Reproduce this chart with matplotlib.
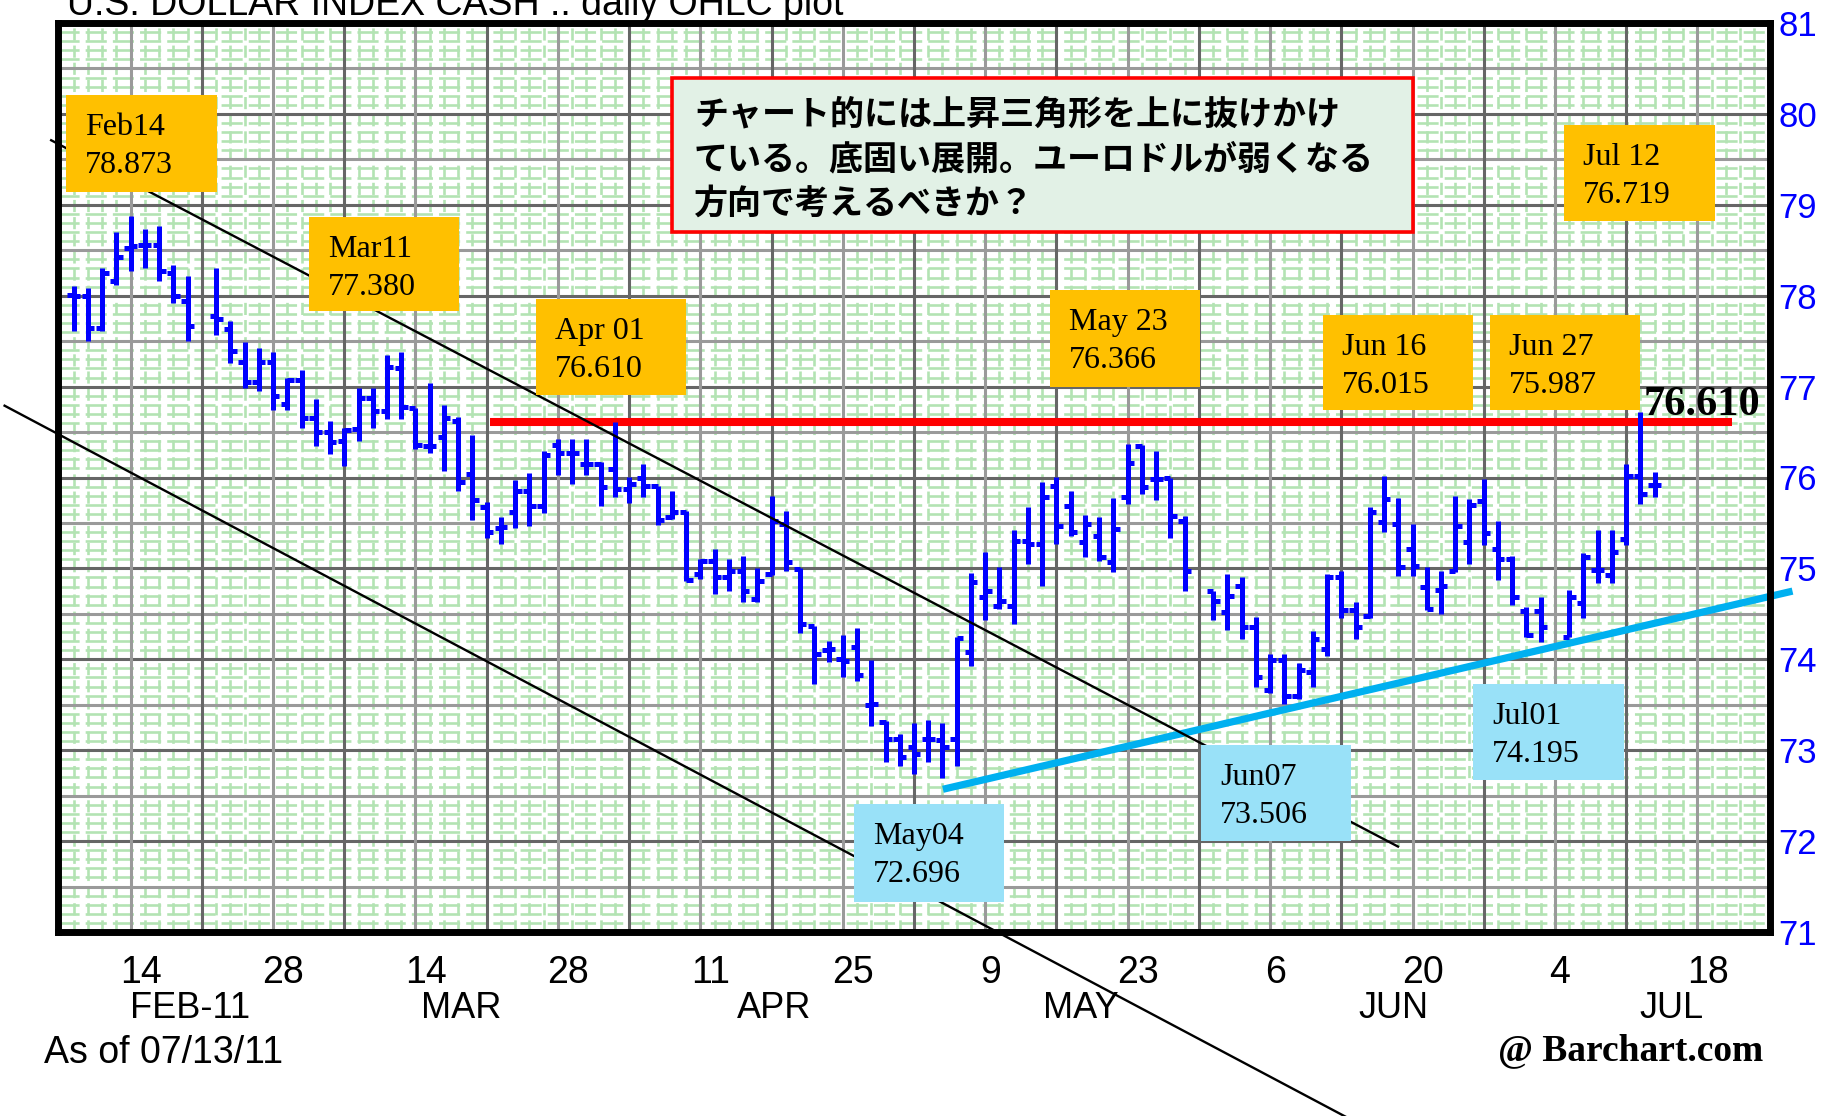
import numpy as np
import matplotlib
matplotlib.use("Agg")
import matplotlib.pyplot as plt
from matplotlib.patches import Rectangle
from matplotlib.transforms import blended_transform_factory

# ---------------- data ----------------
dates = ["2011-02-08", "2011-02-09", "2011-02-10", "2011-02-11",
         "2011-02-14", "2011-02-15", "2011-02-16", "2011-02-17", "2011-02-18",
         "2011-02-22", "2011-02-23", "2011-02-24", "2011-02-25",
         "2011-02-28", "2011-03-01", "2011-03-02", "2011-03-03", "2011-03-04",
         "2011-03-07", "2011-03-08", "2011-03-09", "2011-03-10", "2011-03-11",
         "2011-03-14", "2011-03-15", "2011-03-16", "2011-03-17", "2011-03-18",
         "2011-03-21", "2011-03-22", "2011-03-23", "2011-03-24", "2011-03-25",
         "2011-03-28", "2011-03-29", "2011-03-30", "2011-03-31", "2011-04-01",
         "2011-04-04", "2011-04-05", "2011-04-06", "2011-04-07", "2011-04-08",
         "2011-04-11", "2011-04-12", "2011-04-13", "2011-04-14", "2011-04-15",
         "2011-04-18", "2011-04-19", "2011-04-20", "2011-04-21", "2011-04-22",
         "2011-04-25", "2011-04-26", "2011-04-27", "2011-04-28", "2011-04-29",
         "2011-05-02", "2011-05-03", "2011-05-04", "2011-05-05", "2011-05-06",
         "2011-05-09", "2011-05-10", "2011-05-11", "2011-05-12", "2011-05-13",
         "2011-05-16", "2011-05-17", "2011-05-18", "2011-05-19", "2011-05-20",
         "2011-05-23", "2011-05-24", "2011-05-25", "2011-05-26", "2011-05-27",
         "2011-05-31", "2011-06-01", "2011-06-02", "2011-06-03",
         "2011-06-06", "2011-06-07", "2011-06-08", "2011-06-09", "2011-06-10",
         "2011-06-13", "2011-06-14", "2011-06-15", "2011-06-16", "2011-06-17",
         "2011-06-20", "2011-06-21", "2011-06-22", "2011-06-23", "2011-06-24",
         "2011-06-27", "2011-06-28", "2011-06-29", "2011-06-30", "2011-07-01",
         "2011-07-05", "2011-07-06", "2011-07-07", "2011-07-08",
         "2011-07-11", "2011-07-12", "2011-07-13"]

opens = [78.01, 78.00, 77.65, 78.16,
         78.53, 78.56, 78.56, 78.25, 77.94,
         77.78, 77.63, 77.27, 77.05,
         77.27, 76.81, 77.07, 76.66, 76.50,
         76.40, 76.53, 76.87, 76.73, 77.20,
         76.76, 76.35, 76.45, 76.62, 76.04,
         75.67, 75.44, 75.62, 75.85, 75.69,
         76.36, 76.27, 76.15, 76.15, 76.09,
         75.87, 76.00, 75.91, 75.57, 75.62,
         74.94, 75.08, 74.90, 74.97, 74.66,
         74.94, 75.49, 74.99, 74.37, 74.10,
         74.00, 74.13, 73.50, 73.31, 73.12,
         73.03, 73.12, 73.11, 73.12, 74.08,
         74.68, 74.59, 74.59, 75.30, 75.27,
         75.91, 75.69, 75.29, 75.36, 75.07,
         75.78, 76.35, 75.98, 76.00, 75.52,
         74.75, 74.52, 74.81, 74.36,
         73.66, 73.99, 73.60, 73.86, 74.11,
         74.90, 74.54, 74.48, 75.51, 75.49,
         75.21, 74.80, 74.76, 74.97, 75.29,
         75.74, 75.21, 75.10, 74.53, 74.53,
         74.25, 74.62, 74.98, 74.93,
         75.32, 76.02, 75.92]

highs = [78.11, 78.08, 78.31, 78.70,
         78.873, 78.73, 78.77, 78.34, 78.22,
         78.31, 77.72, 77.49, 77.42,
         77.38, 77.09, 77.18, 76.86, 76.62,
         76.55, 76.98, 76.98, 77.35, 77.380,
         76.76, 77.04, 76.80, 76.67, 76.47,
         75.73, 75.56, 75.97, 76.05, 76.29,
         76.42, 76.42, 76.42, 76.17, 76.610,
         76.01, 76.15, 75.91, 75.85, 75.63,
         75.10, 75.21, 75.10, 75.14, 75.00,
         75.80, 75.63, 75.00, 74.37, 74.20,
         74.27, 74.34, 73.99, 73.32, 73.18,
         73.30, 73.33, 73.30, 74.24, 74.95,
         75.18, 75.02, 75.42, 75.67, 75.95,
         76.01, 75.85, 75.59, 75.57, 75.77,
         76.366, 76.36, 76.29, 76.00, 75.58,
         74.75, 74.94, 74.90, 74.47,
         74.06, 74.06, 73.96, 74.31, 74.94,
         74.97, 74.63, 75.67, 76.015, 75.77,
         75.49, 75.01, 74.97, 75.80, 75.76,
         75.987, 75.52, 75.14, 74.58, 74.69,
         74.76, 75.17, 75.42, 75.42,
         76.15, 76.719, 76.06]

lows = [77.61, 77.50, 77.61, 78.12,
        78.27, 78.30, 78.16, 77.92, 77.50,
        77.57, 77.26, 76.98, 76.95,
        76.74, 76.74, 76.54, 76.35, 76.26,
        76.13, 76.40, 76.55, 76.64, 76.64,
        76.31, 76.27, 76.07, 75.85, 75.53,
        75.33, 75.27, 75.44, 75.47, 75.61,
        76.03, 75.93, 76.03, 75.69, 75.78,
        75.72, 75.78, 75.48, 75.54, 74.86,
        74.88, 74.72, 74.75, 74.63, 74.63,
        74.93, 74.97, 74.29, 73.73, 73.97,
        73.80, 73.76, 73.27, 72.87, 72.83,
        72.74, 72.87, 72.696, 72.83, 73.93,
        74.43, 74.55, 74.39, 75.05, 74.81,
        75.27, 75.36, 75.12, 75.08, 74.96,
        75.71, 75.82, 75.75, 75.33, 74.75,
        74.43, 74.32, 74.22, 73.69,
        73.63, 73.506, 73.56, 73.69, 74.04,
        74.45, 74.22, 74.45, 75.40, 74.92,
        74.92, 74.54, 74.50, 74.96, 75.05,
        75.26, 74.87, 74.60, 74.24, 74.195,
        74.24, 74.45, 74.84, 74.84,
        75.26, 75.71, 75.78]

closes = [78.00, 77.65, 78.25, 78.43,
          78.55, 78.56, 78.27, 78.00, 77.67,
          77.74, 77.39, 77.05, 77.27,
          76.90, 77.07, 76.66, 76.50, 76.39,
          76.52, 76.87, 76.73, 77.22, 76.78,
          76.36, 76.35, 76.65, 75.95, 75.75,
          75.40, 75.45, 75.85, 75.69, 76.25,
          76.27, 76.27, 76.15, 75.89, 75.87,
          75.93, 75.91, 75.53, 75.62, 74.87,
          75.08, 74.90, 74.97, 74.75, 74.86,
          75.52, 75.07, 74.39, 74.06, 74.11,
          73.98, 73.83, 73.51, 73.12, 72.92,
          72.96, 73.12, 73.03, 74.23, 74.85,
          74.75, 74.64, 75.30, 75.27, 75.78,
          75.47, 75.40, 75.49, 75.12, 75.43,
          76.16, 75.89, 75.98, 75.58, 74.97,
          74.64, 74.70, 74.36, 73.81,
          73.99, 73.60, 73.88, 74.22, 74.90,
          74.54, 74.35, 75.62, 75.76, 75.02,
          75.03, 74.55, 74.81, 75.47, 75.70,
          75.39, 75.10, 74.69, 74.27, 74.35,
          74.68, 75.12, 74.98, 75.18,
          76.02, 75.82, 75.92]

tick_dates = ["2011-02-14", "2011-02-28", "2011-03-14", "2011-03-28",
              "2011-04-11", "2011-04-25", "2011-05-09", "2011-05-23",
              "2011-06-06", "2011-06-20", "2011-07-04", "2011-07-18"]
tick_labels = ["14", "28", "14", "28", "11", "25", "9", "23", "6", "20", "4", "18"]
month_labels = ["FEB-11", "MAR", "APR", "MAY", "JUN", "JUL"]
month_starts = ["2011-02-01", "2011-03-01", "2011-04-01", "2011-05-01",
                "2011-06-01", "2011-07-01", "2011-08-01"]
y_ticks = [71, 72, 73, 74, 75, 76, 77, 78, 79, 80, 81]

# annotation boxes: (label line 1, value)
high_notes = [("Feb14", "78.873"), ("Mar11", "77.380"), ("Apr 01", "76.610"),
              ("May 23", "76.366"), ("Jun 16", "76.015"), ("Jun 27", "75.987"),
              ("Jul 12", "76.719")]
low_notes = [("May04", "72.696"), ("Jun07", "73.506"), ("Jul01", "74.195")]
resistance = 76.610
# hand-drawn trend lines (weekday index from 2011-02-14, price)
upper_line_x = [-5.58, 88.98]
upper_line_y = [79.71, 71.94]
lower_line_x = [-8.85, 86.0]
lower_line_y = [76.79, 68.91]
support_x = [57.03, 116.68]
support_y = [72.57, 74.75]
resist_x = [25.2, 112.4]
comment_lines = ["チャート的には上昇三角形を上に抜けかけ",
                 "ている。底固い展開。ユーロドルが弱くなる",
                 "方向で考えるべきか？"]
title = "U.S. DOLLAR INDEX CASH .. daily OHLC plot"

# ---------------- figure ----------------
W, H = 1822, 1116
fig = plt.figure(figsize=(W / 100, H / 100), dpi=100)
fig.patch.set_facecolor("white")

ORIGIN = "2011-02-14"
def xi(d):
    return float(np.busday_count(ORIGIN, d))

X = np.array([xi(d) for d in dates])
O = np.array(opens); Hh = np.array(highs); L = np.array(lows); C = np.array(closes)

ax = fig.add_axes([58 / W, 1 - 932 / H, (1770 - 58) / W, (932 - 23) / H])
ax.set_xlim(-5.1, 115.1)
ax.set_ylim(71, 81)
ax.set_facecolor("white")

# green minor mesh
green = "#b3e3b3"
hv = [v / 10 for v in range(711, 810) if v % 5 != 0]
ax.hlines(hv, -5.1, 115.1, colors=green, linewidth=1.9,
          linestyles=(0, (8.0, 2.3)), zorder=0.5)
vv = [i for i in range(-5, 116) if i % 5 != 0]
ax.vlines(vv, 71, 81, colors=green, linewidth=1.9,
          linestyles=(0, (4.6, 1.9)), zorder=0.5)

# grey grid
for k in range(143, 162):
    v = k / 2
    ax.axhline(v, color="#666666" if k % 2 == 0 else "#9a9a9a", lw=2.2, zorder=1)
for i in range(-5, 116, 5):
    ax.axvline(i, color="#666666" if i % 10 != 0 else "#9a9a9a", lw=2.2, zorder=1)

# resistance line (red) and support line (cyan)
ax.plot(resist_x, [resistance, resistance], color="#ff0000", lw=5.8,
        solid_capstyle="butt", zorder=2)
ax.plot(support_x, support_y, color="#00b0f0", lw=5.2, solid_capstyle="butt",
        zorder=2.5, clip_on=False)

# OHLC bars
blue = "#0000ff"
tk = 0.45
ax.vlines(X, L, Hh, colors=blue, linewidth=3.6, zorder=3)
ax.hlines(O, X - tk, X, colors=blue, linewidth=3.6, zorder=3)
ax.hlines(C, X, X + tk, colors=blue, linewidth=3.6, zorder=3)

# channel lines (black)
ax.plot(upper_line_x, upper_line_y, color="black", lw=1.7, zorder=4, clip_on=False)
ax.plot(lower_line_x, lower_line_y, color="black", lw=1.7, zorder=4, clip_on=False)

for s in ax.spines.values():
    s.set_linewidth(5)
    s.set_color("black")
    s.set_zorder(10)

ax.set_xticks([])
ax.yaxis.tick_right()
ax.set_yticks(y_ticks)
ax.set_yticklabels([str(v) for v in y_ticks])
ax.tick_params(axis="y", length=0, pad=6, labelsize=25, labelcolor="#0000ff")
for t in ax.get_yticklabels():
    t.set_fontfamily(["Liberation Sans", "DejaVu Sans"])

# x tick labels
bt = blended_transform_factory(ax.transData, fig.transFigure)
for d, lab in zip(tick_dates, tick_labels):
    fig.text(xi(d) + 0.36 * len(lab), 1 - 983 / H, lab, transform=bt,
             ha="center", va="baseline", fontsize=27,
             family=["Liberation Sans", "DejaVu Sans"])
for k, lab in enumerate(month_labels):
    a = max(xi(month_starts[k]), X[0])
    b = min(xi(month_starts[k + 1]) - 1, 115)
    fig.text((a + b) / 2 + 1.2, 1 - 1018 / H, lab, transform=bt,
             ha="center", va="baseline", fontsize=26,
             family=["Liberation Sans", "DejaVu Sans"])

fig.text(44 / W, 1 - 1063 / H, "As of 07/13/11", ha="left", va="baseline",
         fontsize=27, family=["Liberation Sans", "DejaVu Sans"])
fig.text(1763 / W, 1 - 1060 / H, "@ Barchart.com", ha="right", va="baseline",
         fontsize=27, fontweight="bold", family=["Liberation Serif", "DejaVu Serif"])
fig.text(67 / W, 1 - 15 / H, title, ha="left", va="baseline", fontsize=27,
         family=["Liberation Sans", "DejaVu Sans"])

# annotation boxes (pixel rectangles: x0, y0, x1, y1 in image px)
high_boxes = [(66, 95, 217, 192), (309, 217, 459, 311), (536, 299, 686, 395),
              (1050, 290, 1200, 387), (1323, 315, 1473, 410), (1490, 315, 1640, 410),
              (1564, 125, 1715, 221)]
low_boxes = [(854, 804, 1004, 902), (1201, 745, 1351, 841), (1473, 684, 1624, 780)]

def box(rect, face, l1, l2):
    x0, y0, x1, y1 = rect
    fig.patches.append(Rectangle((x0 / W, 1 - y1 / H), (x1 - x0) / W, (y1 - y0) / H,
                                 transform=fig.transFigure, facecolor=face,
                                 edgecolor="none", zorder=5))
    fig.text((x0 + 19) / W, 1 - (y0 + 40) / H, l1, ha="left", va="baseline",
             fontsize=23, family=["Liberation Serif", "DejaVu Serif"], zorder=6)
    fig.text((x0 + 19) / W, 1 - (y0 + 78) / H, l2, ha="left", va="baseline",
             fontsize=23, family=["Liberation Serif", "DejaVu Serif"], zorder=6)

for rect, (a, b) in zip(high_boxes, high_notes):
    box(rect, "#ffc000", a, b)
for rect, (a, b) in zip(low_boxes, low_notes):
    box(rect, "#99e1f8", a, b)

# value label for the resistance
fig.text(1644 / W, 1 - 415 / H, f"{resistance:.3f}", ha="left", va="baseline",
         fontsize=30.5, fontweight="bold",
         family=["Liberation Serif", "DejaVu Serif"], zorder=6)

# comment box
cx0, cy0, cx1, cy1 = 672, 78, 1413, 232
fig.patches.append(Rectangle((cx0 / W, 1 - cy1 / H), (cx1 - cx0) / W, (cy1 - cy0) / H,
                             transform=fig.transFigure, facecolor="#e2f1e6",
                             edgecolor="#ff0000", linewidth=2.6, zorder=5))
for k, line in enumerate(comment_lines):
    fig.text(694 / W, 1 - (114 + 44.8 * k) / H, line, ha="left", va="center",
             fontsize=24.5, fontweight="bold",
             family=["Noto Sans CJK JP", "DejaVu Sans"], zorder=6)

fig.savefig("out.png", dpi=100, facecolor="white")
